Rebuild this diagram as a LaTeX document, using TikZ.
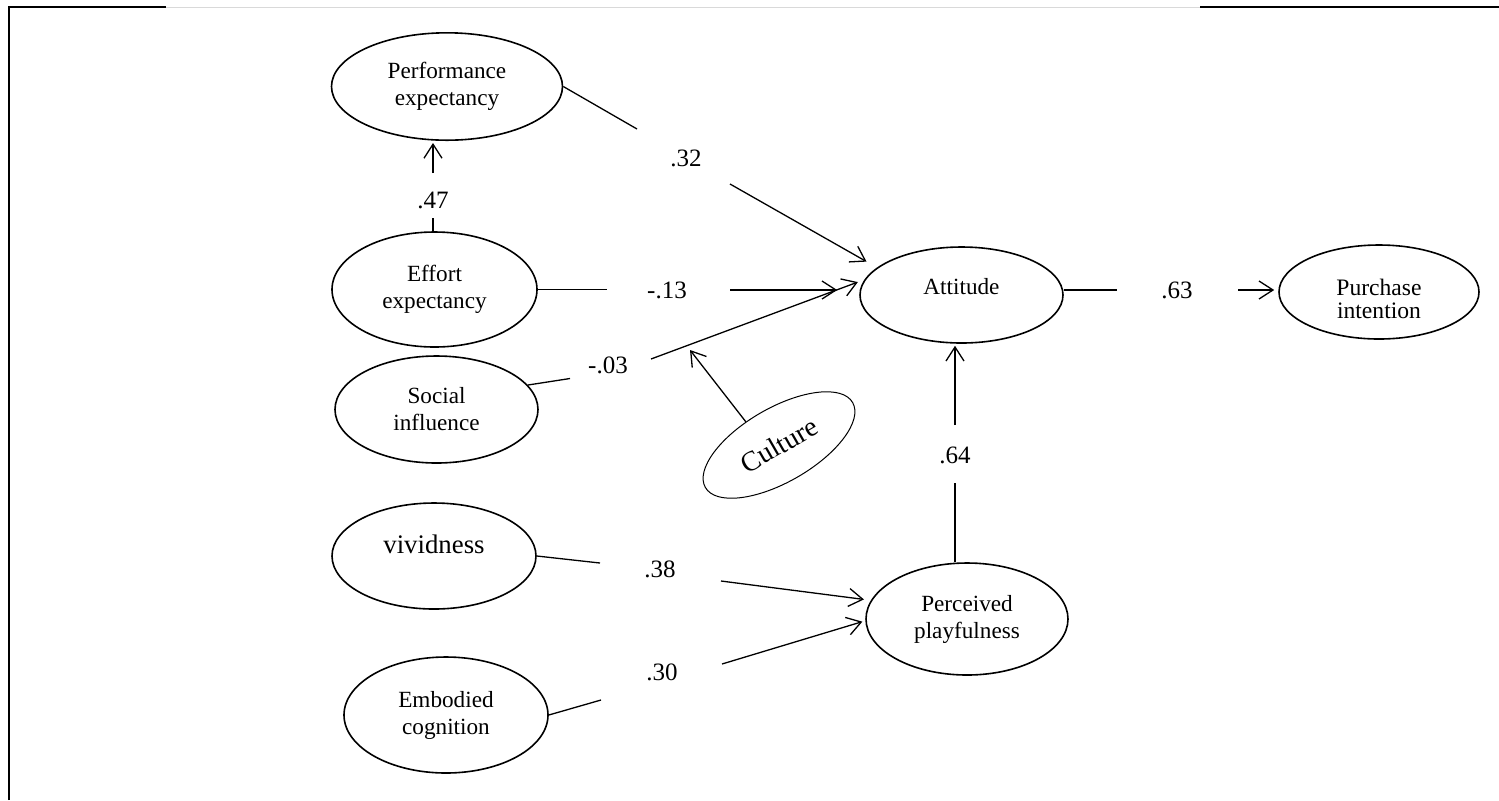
\documentclass[tikz,border=0pt]{standalone}
\usepackage{fontspec}
\setmainfont{Liberation Serif}
\usetikzlibrary{shapes.geometric,arrows.meta,calc}

\begin{document}
\begin{tikzpicture}[x=0.5pt,y=-0.5pt,
  latent/.style={draw, ellipse, line width=0.8pt, inner sep=0pt, align=center,
    font=\fontsize{11.6}{13.5}\selectfont},
  link/.style={line width=0.65pt},
  arr/.style={link, -{Straight Barb[length=7pt,width=9pt]}},
  coef/.style={inner sep=0pt, font=\fontsize{12.5}{14}\selectfont}
]
\useasboundingbox (0,0) rectangle (1499,800);

% page frame
\draw[line width=1pt] (8.5,800) -- (8.5,7) -- (166,7);
\draw[line width=0.5pt, black!15] (166,7.5) -- (1200,7.5);
\draw[line width=1.1pt] (1200,7) -- (1499,7);

% latent constructs
\node[latent, minimum width=115.5pt, minimum height=53.7pt] (perf) at (447,86.5) {Performance\\expectancy};
\node[latent, minimum width=102.5pt, minimum height=57.5pt] (eff) at (434.5,289.5) {Effort\\expectancy};
\node[latent, minimum width=101.5pt, minimum height=53.5pt] (soc) at (436.5,409.5) {Social\\influence};
\node[latent, minimum width=102pt, minimum height=53pt, font=\fontsize{13.4}{15}\selectfont, text depth=12pt] (viv) at (434,556) {vividness};
\node[latent, minimum width=102pt, minimum height=58pt] (emb) at (446,715) {Embodied\\cognition};
\node[latent, minimum width=101.5pt, minimum height=48pt, text depth=9pt] (att) at (961.5,295) {Attitude};
\node[latent, minimum width=100pt, minimum height=47pt, font=\fontsize{11.8}{11.8}\selectfont, text height=27pt] (pur) at (1379,292) {Purchase\\intention};
\node[latent, minimum width=101pt, minimum height=56pt] (perc) at (967,619) {Perceived\\playfulness};
\node[latent, line width=0.5pt, minimum width=85pt, minimum height=37pt, rotate=30, font=\fontsize{14}{16}\selectfont] (cult) at (779,445) {Culture};

% path coefficients
\node[coef] (l47) at (433,200) {.47};
\node[coef] (l32) at (686,158) {.32};
\node[coef] (l13) at (667,290) {-.13};
\node[coef] (l03) at (608,365) {-.03};
\node[coef] (l63) at (1177,290) {.63};
\node[coef] (l64) at (955,455) {.64};
\node[coef] (l38) at (660,569) {.38};
\node[coef] (l30) at (662,672) {.30};

% ends of the split path segments
\coordinate (c47a) at (433,218);  \coordinate (c47b) at (433,173);
\coordinate (c32a) at (637,129);  \coordinate (c32b) at (730,184);
\coordinate (c13a) at (607,289.5);\coordinate (c13b) at (730,290);
\coordinate (c03a) at (570,378.5);\coordinate (c03b) at (651,359);
\coordinate (c63a) at (1117,290); \coordinate (c63b) at (1238,290);
\coordinate (c64a) at (955,483);  \coordinate (c64b) at (955,425);
\coordinate (c38a) at (600,563);  \coordinate (c38b) at (721,581);
\coordinate (c30a) at (601,700);  \coordinate (c30b) at (722,664);
\coordinate (mod) at (690,350);

% paths
\draw[link] (eff.north -| c47a) -- (c47a);
\draw[arr, shorten >=1pt] (c47b) -- (perf.south -| c47b);

\draw[link] (perf.east) -- (c32a);
\draw[arr, shorten >=6pt] (c32b) -- (att.162);

\draw[link] (eff.east) -- (c13a);
\draw[arr, shorten >=11pt] (c13b) -- (c13b -| att.west);

\draw[link] (soc.15) -- (c03a);
\draw[arr, shorten >=3.5pt] (c03b) -- (att.171);

\draw[arr] (cult.115) -- (mod);

\draw[link] (att.east |- c63a) -- (c63a);
\draw[arr, shorten >=2pt] (c63b) -- (c63b -| pur.west);

\draw[link] (perc.north -| c64a) -- (c64a);
\draw[arr, shorten >=1pt] (c64b) -- (att.south -| c64b);

\draw[link] (viv.east) -- (c38a);
\draw[arr, shorten >=3.5pt] (c38b) -- (perc.169);

\draw[link] (emb.east) -- (c30a);
\draw[arr, shorten >=1.5pt] (c30b) -- (perc.181);
\end{tikzpicture}
\end{document}
